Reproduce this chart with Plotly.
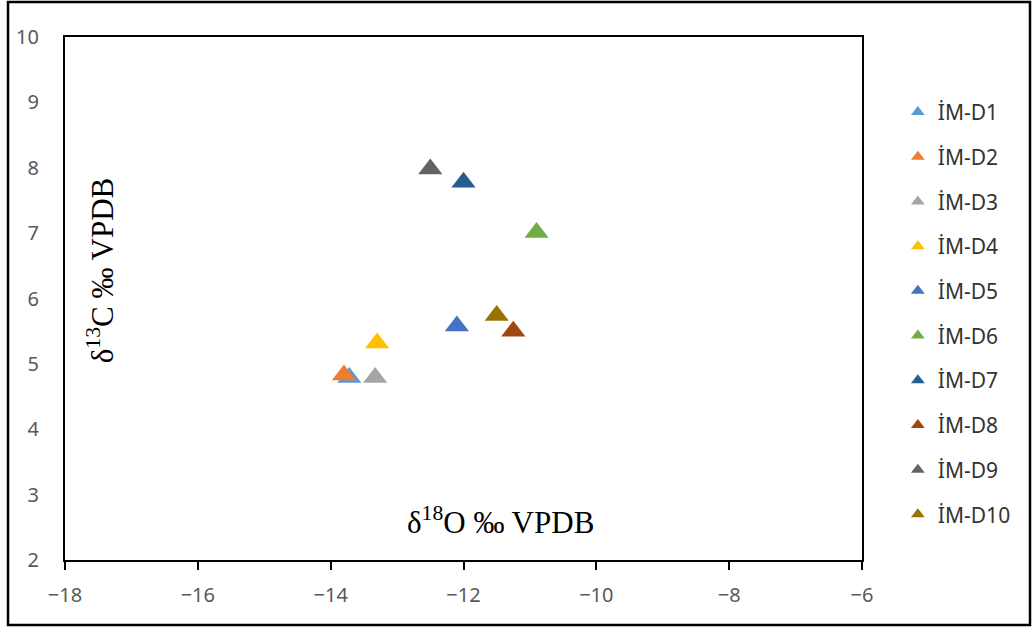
import plotly.graph_objects as go

names = ["İM-D1", "İM-D2", "İM-D3", "İM-D4", "İM-D5",
         "İM-D6", "İM-D7", "İM-D8", "İM-D9", "İM-D10"]
d18O = [-13.72, -13.80, -13.33, -13.30, -12.10, -10.90, -12.00, -11.25, -12.50, -11.50]
d13C = [4.79, 4.83, 4.79, 5.32, 5.58, 7.01, 7.78, 5.50, 7.98, 5.74]
colors = ["#5B9BD5", "#ED7D31", "#A5A5A5", "#FFC000", "#4472C4",
          "#70AD47", "#255E91", "#9E480E", "#636363", "#997300"]

x_ticks = [-18, -16, -14, -12, -10, -8, -6]
y_ticks = [2, 3, 4, 5, 6, 7, 8, 9, 10]

fig = go.Figure()
for i, n in enumerate(names):
    fig.add_trace(go.Scatter(
        x=[d18O[i]], y=[d13C[i]], mode="markers", name=n,
        legendgroup=n,
        marker=dict(symbol="triangle-up", size=21, color=colors[i],
                    line=dict(width=0)),
    ))

tick_font = dict(family="Noto Sans", size=20, color="#595959")
fig.update_layout(
    width=1034, height=630,
    margin=dict(l=65, r=172, t=37, b=70),
    paper_bgcolor="white", plot_bgcolor="white",
    showlegend=True,
    legend=dict(x=1.045, y=0.895, xanchor="left", yanchor="top",
                font=dict(family="Noto Sans", size=21, color="#333333"),
                tracegroupgap=14.4, itemsizing="constant",
                bgcolor="rgba(0,0,0,0)"),
    xaxis=dict(range=[-18, -6], tickvals=x_ticks, showgrid=False, zeroline=False,
               showline=True, linecolor="black", linewidth=2, mirror=True,
               ticks="outside", ticklen=8, tickcolor="black", tickwidth=1.5,
               ticklabelstandoff=8, tickfont=tick_font),
    yaxis=dict(range=[2, 10], tickvals=y_ticks, showgrid=False, zeroline=False,
               showline=True, linecolor="black", linewidth=2, mirror=True,
               ticks="", ticklabelstandoff=20,
               tickfont=tick_font),
    annotations=[
        dict(text="δ<sup>13</sup>C ‰ VPDB", xref="paper", yref="paper",
             x=0.044, y=0.554, xanchor="center", yanchor="middle",
             showarrow=False, textangle=-90,
             font=dict(family="Liberation Serif", size=31, color="black")),
        dict(text="δ<sup>18</sup>O ‰ VPDB", xref="paper", yref="paper",
             x=0.547, y=0.0746, xanchor="center", yanchor="middle",
             showarrow=False,
             font=dict(family="Liberation Serif", size=31, color="black")),
    ],
    shapes=[
        dict(type="rect", xref="paper", yref="paper",
             x0=-0.0715, x1=1.2108, y0=-0.1243, y1=1.0669,
             line=dict(color="black", width=2.5), fillcolor="rgba(0,0,0,0)",
             layer="below"),
    ],
)

fig.write_html("out.html")
